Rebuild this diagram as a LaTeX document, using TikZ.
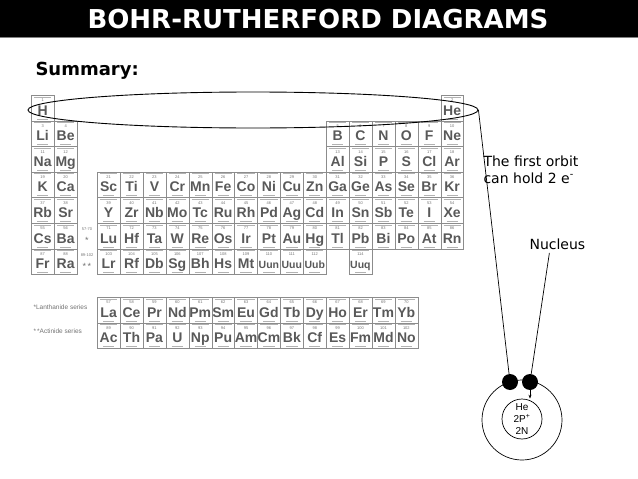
\documentclass[tikz,border=0pt]{standalone}
\usepackage{fontspec}
\setmainfont{Liberation Sans}
\newfontfamily\verd{DejaVu Sans}
\usetikzlibrary{arrows.meta,shapes.geometric}
\tikzset{
 cell/.style={draw=black!45,line width=0.4pt,minimum width=22.9pt,minimum height=25.6pt,inner sep=0pt,anchor=north west},
 sym/.style={text=black!65,inner sep=0pt,anchor=base,font=\bfseries\fontsize{14}{14}\selectfont},
 sym3/.style={text=black!65,inner sep=0pt,anchor=base,font=\bfseries\fontsize{10.5}{10}\selectfont},
 num/.style={text=black!55,inner sep=0pt,font=\fontsize{4}{4}\selectfont},
 tiny/.style={black!30,line width=0.7pt},
 lbl/.style={font=\verd\fontsize{14}{17}\selectfont,align=left},
 wire/.style={black,line width=0.7pt},
 electron/.style={circle,fill=black,minimum size=16pt,inner sep=0pt},
}
\newcommand\elemcell[5]{% x, y, num, sym, style
 \node[cell] (e#3) at (#1,#2) {};
 \draw[tiny] ([xshift=3pt,yshift=-2pt]e#3.north west) -- ([xshift=-3pt,yshift=-2pt]e#3.north east);
 \node[num] at ([yshift=-5.5pt]e#3.north) {#3};
 \node[#5] at ([yshift=-20pt]e#3.north) {#4};
 \draw[tiny] ([xshift=6pt,yshift=2pt]e#3.south west) -- ([xshift=-6pt,yshift=2pt]e#3.south east);
}
\begin{document}
\begin{tikzpicture}[x=1pt,y=-1pt]
\useasboundingbox (0,0) rectangle (638,479);
\fill[black] (0,0) rectangle (638,37);
\draw[black!50] (0,37.5) -- (638,37.5);
\node[text=white,font=\verd\bfseries\fontsize{26}{28}\selectfont] (title) at (318,19) {BOHR-RUTHERFORD DIAGRAMS};
\node[anchor=west,font=\verd\bfseries\fontsize{18}{20}\selectfont] (summ) at (32,71) {Summary:};
% main table
\foreach \c/\r/\n/\s in {1/1/1/H,18/1/2/He,
 1/2/3/Li,2/2/4/Be,13/2/5/B,14/2/6/C,15/2/7/N,16/2/8/O,17/2/9/F,18/2/10/Ne,
 1/3/11/Na,2/3/12/Mg,13/3/13/Al,14/3/14/Si,15/3/15/P,16/3/16/S,17/3/17/Cl,18/3/18/Ar,
 1/4/19/K,2/4/20/Ca,3/4/21/Sc,4/4/22/Ti,5/4/23/V,6/4/24/Cr,7/4/25/Mn,8/4/26/Fe,9/4/27/Co,10/4/28/Ni,11/4/29/Cu,12/4/30/Zn,13/4/31/Ga,14/4/32/Ge,15/4/33/As,16/4/34/Se,17/4/35/Br,18/4/36/Kr,
 1/5/37/Rb,2/5/38/Sr,3/5/39/Y,4/5/40/Zr,5/5/41/Nb,6/5/42/Mo,7/5/43/Tc,8/5/44/Ru,9/5/45/Rh,10/5/46/Pd,11/5/47/Ag,12/5/48/Cd,13/5/49/In,14/5/50/Sn,15/5/51/Sb,16/5/52/Te,17/5/53/I,18/5/54/Xe,
 1/6/55/Cs,2/6/56/Ba,3/6/71/Lu,4/6/72/Hf,5/6/73/Ta,6/6/74/W,7/6/75/Re,8/6/76/Os,9/6/77/Ir,10/6/78/Pt,11/6/79/Au,12/6/80/Hg,13/6/81/Tl,14/6/82/Pb,15/6/83/Bi,16/6/84/Po,17/6/85/At,18/6/86/Rn,
 1/7/87/Fr,2/7/88/Ra,3/7/103/Lr,4/7/104/Rf,5/7/105/Db,6/7/106/Sg,7/7/107/Bh,8/7/108/Hs,9/7/109/Mt}{
 \pgfmathsetmacro\xx{\c<3 ? 31+(\c-1)*23 : 97+(\c-3)*22.9}
 \pgfmathsetmacro\yy{95+(\r-1)*25.6}
 \elemcell{\xx}{\yy}{\n}{\s}{sym}
}
\foreach \c/\n/\s in {10/110/Uun,11/111/Uuu,12/112/Uub}{
 \pgfmathsetmacro\xx{97+(\c-3)*22.9}
 \elemcell{\xx}{248.6}{\n}{\s}{sym3}
}
\elemcell{348.8}{248.6}{114}{Uuq}{sym3}
\node[num] (ln) at (87,229) {57-70};
\node[text=black!55,font=\fontsize{9}{9}\selectfont] (lns) at (87,240) {*};
\node[num] (an) at (87,255) {89-102};
\node[text=black!55,font=\fontsize{9}{9}\selectfont] (ans) at (87,266) {*\,*};
% f-block
\foreach \i/\s in {0/La,1/Ce,2/Pr,3/Nd,4/Pm,5/Sm,6/Eu,7/Gd,8/Tb,9/Dy,10/Ho,11/Er,12/Tm,13/Yb}{
 \pgfmathsetmacro\xx{97+\i*22.9}
 \pgfmathtruncatemacro\nn{57+\i}
 \elemcell{\xx}{297}{\nn}{\s}{sym}
}
\foreach \i/\s in {0/Ac,1/Th,2/Pa,3/U,4/Np,5/Pu,6/Am,7/Cm,8/Bk,9/Cf,10/Es,11/Fm,12/Md,13/No}{
 \pgfmathsetmacro\xx{97+\i*22.9}
 \pgfmathtruncatemacro\nn{89+\i}
 \elemcell{\xx}{322.6}{\nn}{\s}{sym}
}
\node[anchor=west,text=black!55,font=\fontsize{6.5}{7}\selectfont] (lser) at (30,307) {*Lanthanide series};
\node[anchor=west,text=black!55,font=\fontsize{6.5}{7}\selectfont] (aser) at (30,331) {*\,*Actinide series};
% ellipse
\node[draw,ellipse,line width=0.9pt,minimum width=450pt,minimum height=36pt,inner sep=0pt] (ell) at (253,110) {};
% labels
\node[lbl,anchor=north west] (orb) at (480,152) {The first orbit\\can hold 2 e\textsuperscript{-}};
\node[lbl,anchor=west] (nuc) at (526,244) {Nucleus};
% atom
\node[circle,draw,line width=0.7pt,minimum size=80pt,inner sep=0pt] (orbit) at (522,420) {};
\node[circle,draw,line width=0.7pt,minimum size=40pt,inner sep=0pt,align=center,font=\fontsize{10}{12}\selectfont] (nucl) at (522,419) {He\\2P\textsuperscript{+}\\2N};
\node[electron] (el1) at (510,382) {};
\node[electron] (el2) at (530,382) {};
\draw[wire] (ell.east) -- (el1);
\coordinate (nb) at ([xshift=-8pt]nuc.south);
\draw[wire] (nb) -- (el2);
\draw[wire,-{Stealth[length=4pt]}] (el2) -- (nucl.north -| el2);
\end{tikzpicture}
\end{document}
